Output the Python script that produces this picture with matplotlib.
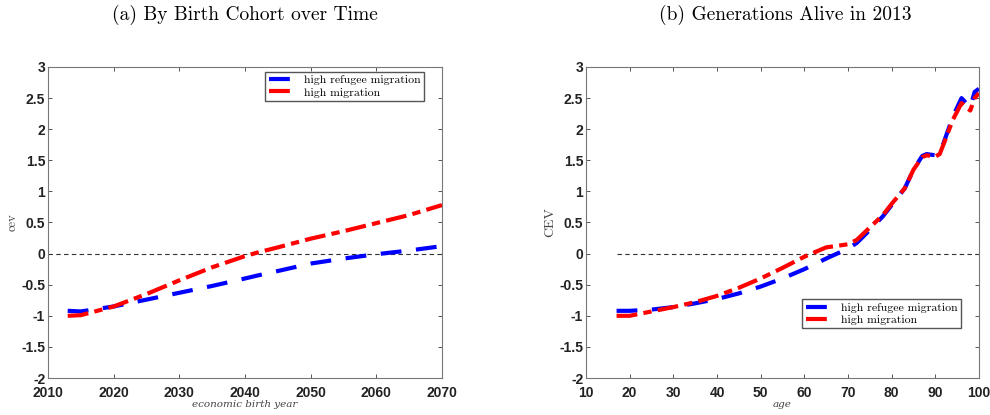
import matplotlib
matplotlib.use("Agg")
import matplotlib.pyplot as plt

# === Data ===
birth_year = [2013, 2015, 2020, 2025, 2030, 2035, 2040, 2042, 2045, 2050, 2055, 2060, 2065, 2070]
cohort_refugee = [-0.92, -0.93, -0.85, -0.74, -0.63, -0.52, -0.40, -0.35, -0.28, -0.16, -0.08, -0.01, 0.05, 0.12]
cohort_high = [-1.00, -0.99, -0.85, -0.65, -0.43, -0.22, -0.04, 0.02, 0.10, 0.24, 0.36, 0.49, 0.62, 0.78]

age = [17, 20, 25, 30, 35, 40, 45, 50, 55, 60, 65, 70, 72, 75, 78, 80, 83, 85,
       87, 88, 90, 91, 92, 94, 96, 98, 99, 100]
alive_refugee = [-0.92, -0.92, -0.90, -0.86, -0.80, -0.73, -0.64, -0.53, -0.40, -0.25, -0.08, 0.08, 0.17,
                 0.38, 0.60, 0.78, 1.05, 1.35, 1.57, 1.60, 1.58, 1.62, 1.80, 2.20, 2.50, 2.35, 2.60, 2.65]
alive_high = [-1.00, -1.00, -0.93, -0.86, -0.78, -0.68, -0.55, -0.40, -0.23, -0.05, 0.10, 0.15, 0.22,
              0.42, 0.62, 0.80, 1.05, 1.35, 1.55, 1.58, 1.56, 1.60, 1.78, 2.15, 2.42, 2.30, 2.50, 2.58]

labels = ["high refugee migration", "high migration"]

serif = "cmr10"
tick_font = dict(family="Liberation Sans", weight="bold", size=10)
legend_opts = dict(prop=dict(family=serif, size=8.5), fancybox=False, edgecolor="#555555", framealpha=1,
                   borderpad=0.3, labelspacing=0.15, handlelength=2.3, handletextpad=0.7, borderaxespad=0)

fig = plt.figure(figsize=(9.9, 4.15), dpi=100)
ax1 = fig.add_axes([48 / 990, 1 - 378 / 415, 394 / 990, 311 / 415])
ax2 = fig.add_axes([586 / 990, 1 - 378 / 415, 393 / 990, 311 / 415])


def style_axis(ax, xlim, xticks):
    ax.set_xlim(*xlim)
    ax.set_ylim(-2, 3)
    ax.set_xticks(xticks)
    ax.set_yticks([-2, -1.5, -1, -0.5, 0, 0.5, 1, 1.5, 2, 2.5, 3])
    ax.set_yticklabels(["-2", "-1.5", "-1", "-0.5", "0", "0.5", "1", "1.5", "2", "2.5", "3"])
    ax.tick_params(direction="in", top=True, right=True, length=3, width=0.7,
                   colors="#555555", labelcolor="#222222", pad=2)
    ax.tick_params(axis="x", pad=6)
    for lab in ax.get_xticklabels() + ax.get_yticklabels():
        lab.set_fontproperties(matplotlib.font_manager.FontProperties(**tick_font))
    for sp in ax.spines.values():
        sp.set_color("#777777")
        sp.set_linewidth(0.8)


# === (a) By birth cohort ===
ax1.plot([2010, 2070], [0, 0], color="#333333", linestyle="--", linewidth=0.8, dashes=(4, 3))
ax1.plot(birth_year, cohort_refugee, color="#0000ff", linewidth=3, dashes=(5, 3.5), label=labels[0])
ax1.plot(birth_year, cohort_high, color="#ff0000", linewidth=3, dashes=(5, 1.5, 2, 1.5), label=labels[1])
style_axis(ax1, (2010, 2070), [2010, 2020, 2030, 2040, 2050, 2060, 2070])
ax1.set_xlabel("economic birth year", family="DejaVu Serif", style="italic", size=7.5, color="#444444", labelpad=0)
ax1.set_ylabel("cev", family=serif, size=9, color="#444444", labelpad=2)
ax1.legend(ax1.get_lines()[1:], labels, loc="upper right", bbox_to_anchor=(0.955, 0.985), **legend_opts)
fig.text(245 / 990, 1 - 15 / 415, "(a) By Birth Cohort over Time", family=serif, size=14,
         ha="center", va="center")

# === (b) Generations alive in 2013 ===
ax2.plot([17, 100], [0, 0], color="#333333", linestyle="--", linewidth=0.8, dashes=(4, 3))
ax2.plot(age, alive_refugee, color="#0000ff", linewidth=3, dashes=(5, 3.5), label=labels[0])
ax2.plot(age, alive_high, color="#ff0000", linewidth=3, dashes=(5, 1.5, 2, 1.5), label=labels[1])
style_axis(ax2, (10, 100), [10, 20, 30, 40, 50, 60, 70, 80, 90, 100])
ax2.set_xlabel("age", family="DejaVu Serif", style="italic", size=7.5, color="#444444", labelpad=0)
ax2.set_ylabel("CEV", family=serif, size=10, color="#444444", labelpad=2)
ax2.legend(ax2.get_lines()[1:], labels, loc="lower left", bbox_to_anchor=(0.55, 0.16), **legend_opts)
fig.text(785 / 990, 1 - 15 / 415, "(b) Generations Alive in 2013", family=serif, size=14,
         ha="center", va="center")

fig.savefig("out.png", dpi=100)
